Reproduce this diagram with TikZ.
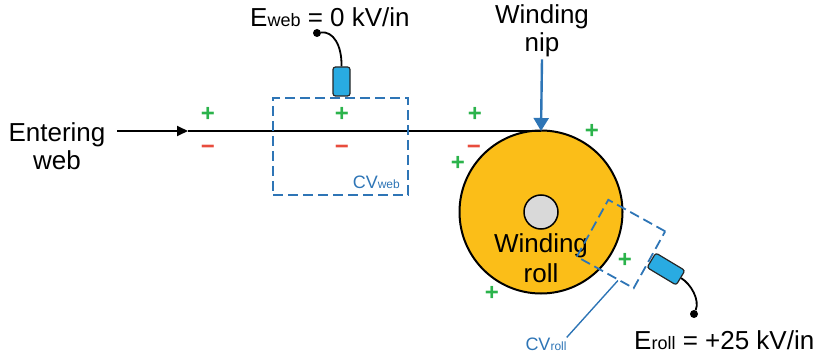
\documentclass[tikz,border=0pt]{standalone}
\usepackage{fontspec}
\setmainfont{Liberation Sans}
\usetikzlibrary{arrows.meta,calc}
\definecolor{cvblue}{HTML}{2E75B6}
\definecolor{rollorange}{HTML}{FBBE18}
\definecolor{sensorblue}{HTML}{29ABE2}
\definecolor{pgreen}{HTML}{2BB34B}
\definecolor{mred}{HTML}{E84C3D}
\definecolor{coregray}{HTML}{D9D9D9}
\newcommand{\bigtxt}{\fontsize{26}{28}\selectfont}
\newcommand{\subtxt}{\fontsize{18}{18}\selectfont}
\newcommand{\cvtxt}{\fontsize{18}{18}\selectfont}
\newcommand{\cvsub}{\fontsize{12}{12}\selectfont}
\begin{document}
\begin{tikzpicture}[x=1pt,y=-1pt,
  lbl/.style={font=\bigtxt, inner sep=0pt, align=center},
  elbl/.style={font=\bigtxt, inner sep=0pt},
  cvlbl/.style={text=cvblue, inner sep=0pt},
  cvbox/.style={draw=cvblue, line width=1.8pt, dash pattern=on 10pt off 5pt, inner sep=0pt},
  sensor/.style={draw=black!85, fill=sensorblue, line width=1.2pt, rounded corners=2.5pt, inner sep=0pt},
  cable/.style={line width=1.8pt, black},
  dotnode/.style={circle, fill=black, inner sep=0pt, minimum size=8pt},
  plus/.style={text=pgreen, font=\fontsize{24}{24}\selectfont\bfseries, inner sep=0pt},
  minus/.style={text=mred, font=\fontsize{24}{24}\selectfont\bfseries, inner sep=0pt},
  webline/.style={line width=1.8pt, black},
  niparrow/.style={line width=2.4pt, cvblue, -{Triangle[length=13pt,width=15pt]}}
]
\useasboundingbox (0,0) rectangle (825,358);

% entering web
\node[lbl] (enter) at (57,146) {Entering\\web};
\coordinate (webin) at (117,131);
\coordinate (tip) at (188,131);
\coordinate (nip) at (541,131);

% winding roll
\node[circle, draw=black, fill=rollorange, line width=2pt, minimum size=163pt, inner sep=0pt] (roll) at (541,212) {};
\node[circle, draw=black, fill=coregray, line width=1.5pt, minimum size=34pt, inner sep=0pt] (core) at (541,212) {};
\node[lbl, font=\fontsize{26}{30}\selectfont] (rolllbl) at (541,258) {Winding\\roll};

\draw[webline, -{Triangle[length=11pt,width=10pt]}] (webin) -- (tip);
\draw[webline] (tip) -- (nip);

% winding nip
\node[lbl] (niplbl) at (542,31) {Winding\\nip};
\draw[niparrow] ([yshift=-2pt]niplbl.south) -- (nip);

% CV web
\node[cvbox, minimum width=135pt, minimum height=97pt] (cvweb) at (340.5,146.5) {};
\node[cvlbl, anchor=east] (cvweblbl) at (400,182) {\cvtxt CV\cvsub web};

% sensor web
\node[sensor, minimum width=17pt, minimum height=29pt] (sw) at (341.5,81.5) {};
\node[dotnode] (dw) at (317,33) {};
\draw[cable] (dw) .. controls (333,31) and (342,45) .. (sw.north);
\node[elbl, anchor=base west] (eweb) at (250,27) {E{\subtxt web} = 0 kV/in};

% CV roll
\node[cvbox, minimum width=65pt, minimum height=65pt, rotate=-29] (cvroll) at (621,244) {};
\node[cvlbl] (cvrolllbl) at (546,344) {\cvtxt CV\cvsub roll};
\draw[cvblue, line width=1.4pt] ($(cvroll.south)!0.45!(cvroll.south east)$) -- (cvrolllbl.north east);

% sensor roll
\node[sensor, minimum width=34pt, minimum height=17pt, rotate=-31] (sr) at (666,269) {};
\node[dotnode] (dr) at (694,314) {};
\draw[cable] (sr.east) .. controls (691,284) and (700,300) .. (dr);
\node[elbl, anchor=base west] (eroll) at (634,349) {E{\subtxt roll} = +25 kV/in};

% charges
\node[plus] (p1) at (208,114) {+};
\node[minus] (m1) at (208,150) {−};
\node[plus] (p2) at (342,114) {+};
\node[minus] (m2) at (342,150) {−};
\node[plus] (p3) at (475,114) {+};
\node[minus] (m3) at (474,150) {−};
\node[plus] (p4) at (592,131) {+};
\node[plus] (p5) at (458,163) {+};
\node[plus] (p6) at (492,293) {+};
\node[plus] (p7) at (625,260) {+};
\end{tikzpicture}
\end{document}
